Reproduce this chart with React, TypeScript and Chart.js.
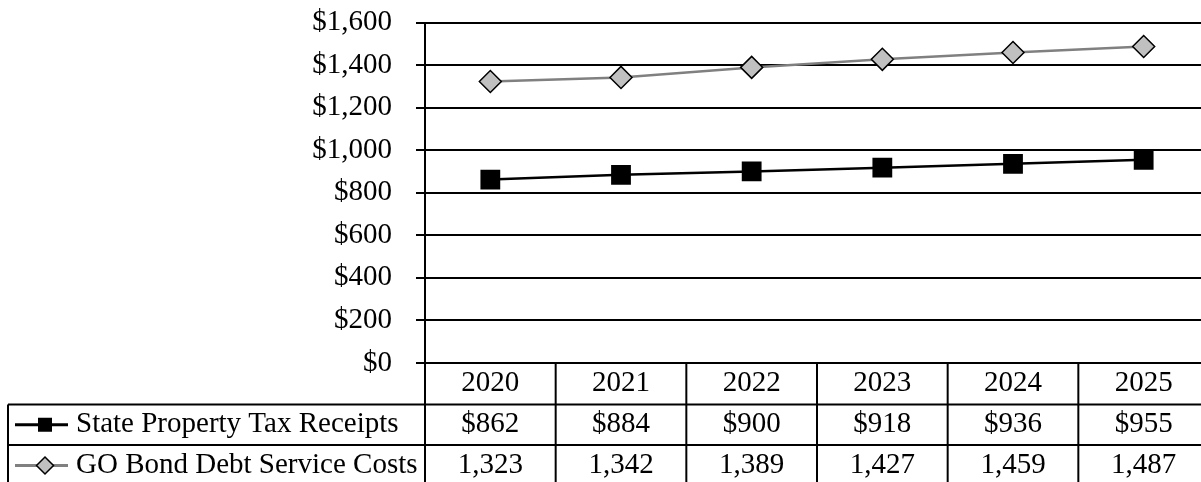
import React, { useEffect, useRef } from 'react';
import { Chart, registerables } from 'chart.js';

Chart.register(...registerables);

// Fiscal years shown on the category axis and in the data table header
const years = ['2020', '2021', '2022', '2023', '2024', '2025'];
// Millions of dollars
const propertyTaxReceipts = [862, 884, 900, 918, 936, 955];
const goBondDebtService = [1323, 1342, 1389, 1427, 1459, 1487];
const seriesNames = ['State Property Tax Receipts', 'GO Bond Debt Service Costs'];
const yMin = 0;
const yMax = 1600;
const yStep = 200;

const FONT = '"Liberation Serif", "Times New Roman", Times, serif';
const FONT_SIZE = 29;
const CANVAS_W = 1209;
const CANVAS_H = 482;

const GRAY_LINE = '#808080';
const DIAMOND_FILL = '#c0c0c0';

const fmtDollar = (v: number) => '$' + v.toLocaleString('en-US');
const fmtPlain = (v: number) => v.toLocaleString('en-US');

// Draws the data table under the plot: year header, legend keys and values
const dataTablePlugin = {
  id: 'dataTable',
  afterDraw(chart: any) {
    const { ctx, chartArea } = chart;
    const xScale = chart.scales.x;
    const left = chartArea.left;
    const right = chartArea.right;
    const yTop = chartArea.bottom;
    const y1 = yTop + 41.5;
    const y2 = y1 + 40.5;
    const y3 = y2 + 41;
    const legendLeft = 8;
    const n = years.length;
    const colW = (right - left) / n;

    const line = (ax: number, ay: number, bx: number, by: number) => {
      ctx.beginPath();
      ctx.moveTo(ax, ay);
      ctx.lineTo(bx, by);
      ctx.stroke();
    };

    ctx.save();
    ctx.strokeStyle = '#000';
    ctx.lineWidth = 2;
    line(legendLeft, y1, right, y1);
    line(legendLeft, y2, right, y2);
    line(legendLeft, y3, right, y3);
    line(legendLeft, y1, legendLeft, y3);
    for (let i = 0; i <= n; i++) {
      const cx = left + i * colW;
      line(cx, yTop, cx, y3);
    }

    ctx.fillStyle = '#000';
    ctx.font = `${FONT_SIZE}px ${FONT}`;
    ctx.textBaseline = 'middle';
    ctx.textAlign = 'center';
    const hc = (yTop + y1) / 2;
    const r1 = (y1 + y2) / 2;
    const r2 = (y2 + y3) / 2;
    years.forEach((yr, i) => {
      const cx = xScale.getPixelForValue(i);
      ctx.fillText(yr, cx, hc);
      ctx.fillText(fmtDollar(propertyTaxReceipts[i]), cx, r1);
      ctx.fillText(fmtPlain(goBondDebtService[i]), cx, r2);
    });

    // legend keys
    const keyX0 = 15;
    const keyX1 = 68;
    const keyC = 45;
    ctx.lineWidth = 3;
    ctx.strokeStyle = '#000';
    line(keyX0, r1, keyX1, r1);
    ctx.fillRect(keyC - 7, r1 - 7, 14, 14);

    ctx.strokeStyle = GRAY_LINE;
    line(keyX0, r2, keyX1, r2);
    ctx.beginPath();
    const d = 8.5;
    ctx.moveTo(keyC - d, r2);
    ctx.lineTo(keyC, r2 - d);
    ctx.lineTo(keyC + d, r2);
    ctx.lineTo(keyC, r2 + d);
    ctx.closePath();
    ctx.fillStyle = DIAMOND_FILL;
    ctx.fill();
    ctx.lineWidth = 1.5;
    ctx.strokeStyle = '#000';
    ctx.stroke();

    ctx.fillStyle = '#000';
    ctx.textAlign = 'left';
    ctx.fillText(seriesNames[0], 76, r1);
    ctx.fillText(seriesNames[1], 76, r2);
    ctx.restore();
  },
};

export default function App() {
  const canvasRef = useRef<HTMLCanvasElement | null>(null);

  useEffect(() => {
    const canvas = canvasRef.current;
    if (!canvas) return;
    const chart = new Chart(canvas, {
      type: 'line',
      data: {
        labels: years,
        datasets: [
          {
            label: seriesNames[0],
            data: propertyTaxReceipts,
            borderColor: '#000',
            borderWidth: 2.5,
            backgroundColor: '#000',
            pointStyle: 'rect',
            pointRadius: 14,
            pointBorderWidth: 0,
            pointBackgroundColor: '#000',
            tension: 0,
          },
          {
            label: seriesNames[1],
            data: goBondDebtService,
            borderColor: GRAY_LINE,
            borderWidth: 2.5,
            backgroundColor: DIAMOND_FILL,
            pointStyle: 'rectRot',
            pointRadius: 11,
            pointBorderWidth: 1.5,
            pointBorderColor: '#000',
            pointBackgroundColor: DIAMOND_FILL,
            tension: 0,
          },
        ],
      },
      options: {
        responsive: false,
        animation: false,
        devicePixelRatio: 1,
        layout: { autoPadding: false, padding: { left: 0, right: 0, top: 22.5, bottom: 119 } },
        plugins: {
          legend: { display: false },
          tooltip: { enabled: false },
        },
        scales: {
          x: {
            type: 'category',
            offset: true,
            display: false,
          },
          y: {
            min: yMin,
            max: yMax,
            afterFit: (scale: any) => {
              scale.width = 425;
              scale.paddingTop = 0;
              scale.paddingBottom = 0;
            },
            ticks: {
              stepSize: yStep,
              color: '#000',
              padding: 24,
              font: { family: FONT, size: FONT_SIZE },
              callback: (v: any) => fmtDollar(Number(v)),
            },
            grid: {
              color: '#000',
              lineWidth: 2,
              tickLength: 9,
            },
            border: { display: true, color: '#000', width: 2 },
          },
        },
      },
      plugins: [dataTablePlugin],
    });
    return () => chart.destroy();
  }, []);

  return (
    <div
      style={{
        position: 'fixed',
        left: 0,
        top: 0,
        width: 1201,
        height: 482,
        overflow: 'hidden',
        background: '#fff',
      }}
    >
      <canvas ref={canvasRef} width={CANVAS_W} height={CANVAS_H} style={{ display: 'block' }} />
    </div>
  );
}
